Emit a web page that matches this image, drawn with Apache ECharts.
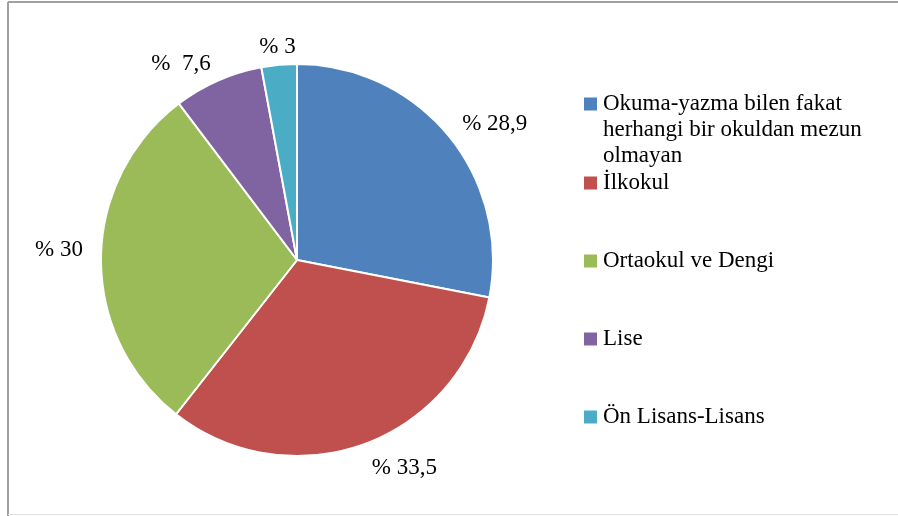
<!DOCTYPE html>
<html>
<head>
<meta charset="utf-8">
<script src="https://cdn.jsdelivr.net/npm/echarts@6/dist/echarts.min.js"></script>
<style>
html, body { margin: 0; padding: 0; background: #fff; }
#chart { width: 898px; height: 516px; }
</style>
</head>
<body>
<div id="chart"></div>
<script>
// education level shares (labels in the source add to 103)
var categories = [
  'Okuma-yazma bilen fakat\nherhangi bir okuldan mezun\nolmayan',
  'İlkokul',
  'Ortaokul ve Dengi',
  'Lise',
  'Ön Lisans-Lisans'
];
var values = [28.9, 33.5, 30, 7.6, 3];
var labelTexts = ['% 28,9', '% 33,5', '% 30', '%  7,6', '% 3'];
var colors = ['#4F81BD', '#C0504D', '#9BBB59', '#8064A2', '#4BACC6'];

var font = "'Liberation Serif', 'Times New Roman', serif";
var legendCenters = [104, 183, 261, 339, 417];

var myChart = echarts.init(document.getElementById('chart'));

var legends = categories.map(function (name, i) {
  var first = i === 0;
  return {
    data: [name],
    orient: 'vertical',
    left: 582,
    top: first ? legendCenters[i] - 65 : legendCenters[i] - 13,
    padding: 0,
    icon: 'rect',
    itemWidth: 15,
    itemHeight: 15,
    selectedMode: false,
    // two empty lines on top keep the first line level with the marker
    formatter: function (n) { return first ? '\n\n' + n : n; },
    textStyle: {
      fontFamily: font,
      fontSize: 23,
      color: '#000',
      lineHeight: 26
    }
  };
});

var option = {
  animation: false,
  color: colors,
  legend: legends,
  graphic: [
    { type: 'line', shape: { x1: 8, y1: 2, x2: 898, y2: 2 }, style: { stroke: '#a0a0a0', lineWidth: 2 } },
    { type: 'line', shape: { x1: 8, y1: 2, x2: 8, y2: 516 }, style: { stroke: '#a0a0a0', lineWidth: 2 } },
    { type: 'line', shape: { x1: 8, y1: 514.5, x2: 898, y2: 514.5 }, style: { stroke: '#e0e0e0', lineWidth: 1 } }
  ],
  series: [
    {
      type: 'pie',
      center: [297, 260],
      radius: 196,
      startAngle: 90,
      clockwise: true,
      avoidLabelOverlap: false,
      silent: true,
      itemStyle: { borderColor: '#fff', borderWidth: 2 },
      label: {
        show: true,
        position: 'outside',
        fontFamily: font,
        fontSize: 23,
        color: '#000',
        distanceToLabelLine: 0,
        formatter: function (p) { return labelTexts[p.dataIndex]; }
      },
      labelLine: { show: false, length: 18, length2: 0 },
      labelLayout: function (p) {
        // small slice at top: centre its label over the slice
        if (p.dataIndex === 4) return { dx: p.labelRect.width / 2 };
        if (p.dataIndex === 2) return { dy: -8 };
        if (p.dataIndex === 1) return { dy: 7 };
      },
      data: categories.map(function (n, i) { return { name: n, value: values[i] }; })
    }
  ]
};

myChart.setOption(option);
window.addEventListener('resize', function () {
  myChart.resize();
});
</script>
</body>
</html>
